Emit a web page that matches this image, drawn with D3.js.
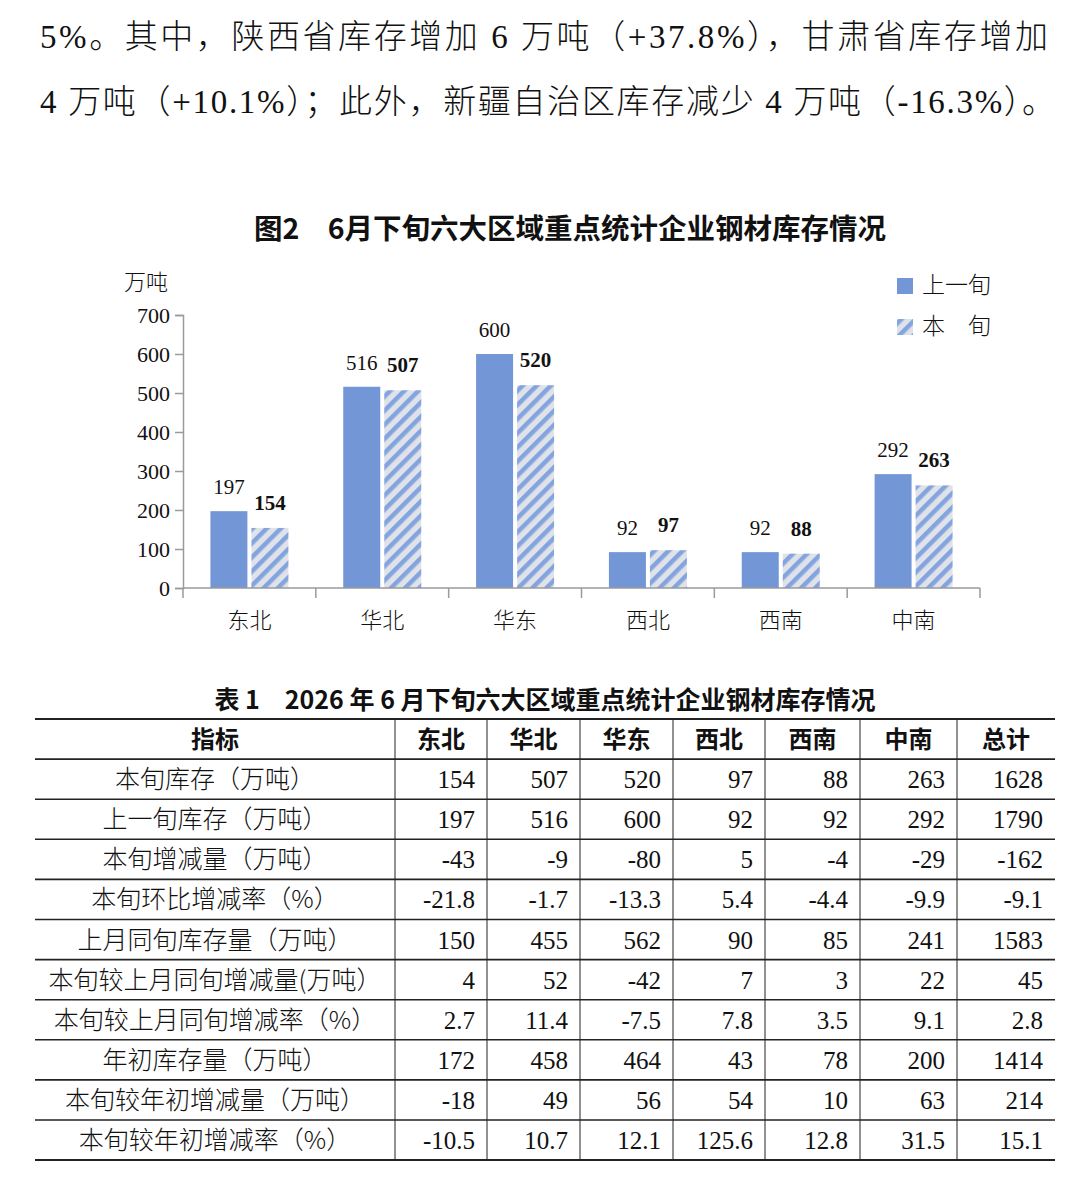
<!DOCTYPE html>
<html>
<head>
<meta charset="utf-8">
<script src="https://cdn.jsdelivr.net/npm/d3@7"></script>
<style>
  body { margin: 0; background: #fff; }
  svg text { font-family: "Liberation Serif", "Noto Sans CJK SC", serif; fill: #111; }
</style>
</head>
<body>
<div id="graphic"></div>
<script>
// chart data
let regions = ['东北', '华北', '华东', '西北', '西南', '中南'];
let prevVals = [197, 516, 600, 92, 92, 292];   // 上一旬
let currVals = [154, 507, 520, 97, 88, 263];   // 本旬
let yTicks = [0, 100, 200, 300, 400, 500, 600, 700];
let seriesNames = ['上一旬', '本　旬'];

// table data
let tableHeader = ['指标', '东北', '华北', '华东', '西北', '西南', '中南', '总计'];
let rowLabels = ['本旬库存（万吨）', '上一旬库存（万吨）', '本旬增减量（万吨）', '本旬环比增减率（%）',
  '上月同旬库存量（万吨）', '本旬较上月同旬增减量(万吨）', '本旬较上月同旬增减率（%）',
  '年初库存量（万吨）', '本旬较年初增减量（万吨）', '本旬较年初增减率（%）'];
let rowCurr = ['154', '507', '520', '97', '88', '263', '1628'];
let rowPrev = ['197', '516', '600', '92', '92', '292', '1790'];
let rowDiff = ['-43', '-9', '-80', '5', '-4', '-29', '-162'];
let rowRate = ['-21.8', '-1.7', '-13.3', '5.4', '-4.4', '-9.9', '-9.1'];
let rowLastMonth = ['150', '455', '562', '90', '85', '241', '1583'];
let rowMonthDiff = ['4', '52', '-42', '7', '3', '22', '45'];
let rowMonthRate = ['2.7', '11.4', '-7.5', '7.8', '3.5', '9.1', '2.8'];
let rowYearStart = ['172', '458', '464', '43', '78', '200', '1414'];
let rowYearDiff = ['-18', '49', '56', '54', '10', '63', '214'];
let rowYearRate = ['-10.5', '10.7', '12.1', '125.6', '12.8', '31.5', '15.1'];
let tableRows = [rowCurr, rowPrev, rowDiff, rowRate, rowLastMonth, rowMonthDiff,
  rowMonthRate, rowYearStart, rowYearDiff, rowYearRate];

let paraLines = ['5%。其中，陕西省库存增加 6 万吨（+37.8%），甘肃省库存增加',
  '4 万吨（+10.1%）；此外，新疆自治区库存减少 4 万吨（-16.3%）。'];

let W = 1080, H = 1197;
let svg = d3.select('#graphic').append('svg')
  .attr('width', W).attr('height', H);

let defs = svg.append('defs');
let pat = defs.append('pattern')
  .attr('id', 'hatch')
  .attr('patternUnits', 'userSpaceOnUse')
  .attr('width', 10).attr('height', 10)
  .attr('patternTransform', 'rotate(45)');
pat.append('rect').attr('width', 10).attr('height', 10).attr('fill', '#dfe2e8');
pat.append('rect').attr('width', 4.5).attr('height', 10).attr('fill', '#84a4df');

// paragraph text above the chart
svg.selectAll('.para')
  .data(paraLines)
  .enter().append('text')
  .attr('class', 'para')
  .attr('x', 40)
  .attr('y', (d, i) => 48 + i * 65)
  .attr('textLength', (d, i) => i == 0 ? 1008 : 1015)
  .attr('lengthAdjust', 'spacing')
  .style('font-size', '33px')
  .style('font-weight', '300')
  .text(d => d);

// chart title
svg.append('text')
  .attr('x', 570).attr('y', 239)
  .attr('text-anchor', 'middle')
  .style('font-family', '"Noto Sans CJK SC", sans-serif')
  .style('font-weight', 'bold')
  .style('font-size', '28.5px')
  .text('图2　6月下旬六大区域重点统计企业钢材库存情况');

// scales
let x = d3.scaleBand()
  .domain(regions)
  .range([183, 980])
  .padding(0);

let y = d3.scaleLinear()
  .domain([0, 700])
  .range([588, 315]);

let barW = 37;

// y axis
let yAxis = svg.append('g')
  .attr('transform', 'translate(183,0)')
  .call(d3.axisLeft(y).tickValues(yTicks).tickSize(8).tickPadding(5));
yAxis.selectAll('line, path').attr('stroke', '#9a9a9a').attr('stroke-width', 1.5);
yAxis.selectAll('text')
  .style('font-size', '22px')
  .style('font-family', '"Liberation Serif", serif')
  .attr('fill', '#222');

svg.append('text')
  .attr('x', 146).attr('y', 290)
  .attr('text-anchor', 'middle')
  .style('font-size', '22px')
  .style('font-family', '"Noto Sans CJK SC", sans-serif')
  .style('font-weight', '300')
  .text('万吨');

// bars: previous period
svg.selectAll('.barPrev')
  .data(prevVals)
  .enter().append('rect')
  .attr('class', 'barPrev')
  .attr('x', (d, i) => x(regions[i]) + x.bandwidth() / 2 - barW - 2)
  .attr('y', d => y(d))
  .attr('width', barW)
  .attr('height', d => y(0) - y(d))
  .attr('fill', '#7397d6');

// bars: current period
svg.selectAll('.barCurr')
  .data(currVals)
  .enter().append('rect')
  .attr('class', 'barCurr')
  .attr('x', (d, i) => x(regions[i]) + x.bandwidth() / 2 + 2)
  .attr('y', d => y(d))
  .attr('width', barW)
  .attr('height', d => y(0) - y(d))
  .attr('fill', 'url(#hatch)');

// value labels
svg.selectAll('.lblPrev')
  .data(prevVals)
  .enter().append('text')
  .attr('x', (d, i) => x(regions[i]) + x.bandwidth() / 2 - barW / 2 - 2)
  .attr('y', d => y(d) - 17)
  .attr('text-anchor', 'middle')
  .style('font-size', '21px')
  .attr('fill', '#222')
  .text(d => d);

svg.selectAll('.lblCurr')
  .data(currVals)
  .enter().append('text')
  .attr('x', (d, i) => x(regions[i]) + x.bandwidth() / 2 + barW / 2 + 2)
  .attr('y', d => y(d) - 18)
  .attr('text-anchor', 'middle')
  .style('font-size', '21px')
  .style('font-weight', 'bold')
  .attr('fill', '#222')
  .text(d => d);

// x axis with ticks at category boundaries
let xAxis = svg.append('g')
  .attr('transform', 'translate(0,588)');
xAxis.append('line')
  .attr('x1', 183).attr('x2', 980)
  .attr('stroke', '#9a9a9a').attr('stroke-width', 1.5);
xAxis.selectAll('.xtick')
  .data(regions.concat(['end']))
  .enter().append('line')
  .attr('x1', (d, i) => i < regions.length ? x(d) : x.range()[1])
  .attr('x2', (d, i) => i < regions.length ? x(d) : x.range()[1])
  .attr('y1', 0).attr('y2', 10)
  .attr('stroke', '#9a9a9a').attr('stroke-width', 1.5);
xAxis.selectAll('.xlabel')
  .data(regions)
  .enter().append('text')
  .attr('x', d => x(d) + x.bandwidth() / 2)
  .attr('y', 40)
  .attr('text-anchor', 'middle')
  .style('font-size', '22px')
  .style('font-family', '"Noto Sans CJK SC", sans-serif')
  .style('font-weight', '300')
  .attr('fill', '#333')
  .text(d => d);

// legend
let legend = svg.append('g').attr('transform', 'translate(897,278)');
legend.selectAll('rect')
  .data(seriesNames)
  .enter().append('rect')
  .attr('x', 0).attr('y', (d, i) => i * 41)
  .attr('width', 16).attr('height', 16)
  .attr('fill', (d, i) => i == 0 ? '#7397d6' : 'url(#hatch)');
legend.selectAll('text')
  .data(seriesNames)
  .enter().append('text')
  .attr('x', 25).attr('y', (d, i) => i * 41 + 15)
  .style('font-size', '23px')
  .style('font-family', '"Noto Sans CJK SC", sans-serif')
  .style('font-weight', '300')
  .attr('fill', '#333')
  .text(d => d);

// ---------- table ----------
svg.append('text')
  .attr('x', 545).attr('y', 709)
  .attr('text-anchor', 'middle')
  .style('font-family', '"Noto Sans CJK SC", sans-serif')
  .style('font-weight', 'bold')
  .style('font-size', '25px')
  .text('表 1　2026 年 6 月下旬六大区域重点统计企业钢材库存情况');

let colEdges = [35, 395, 487, 580, 673, 765, 860, 957, 1055];
let tTop = 719, rowH = 40.1;
let nRows = tableRows.length + 1;

let tbl = svg.append('g');

// horizontal rules
tbl.selectAll('.hline')
  .data(d3.range(nRows + 1))
  .enter().append('line')
  .attr('x1', colEdges[0]).attr('x2', colEdges[colEdges.length - 1])
  .attr('y1', d => tTop + d * rowH).attr('y2', d => tTop + d * rowH)
  .attr('stroke', '#222')
  .attr('stroke-width', d => (d == 0 || d == nRows) ? 2 : 1.6);

// vertical rules (inner only)
tbl.selectAll('.vline')
  .data(colEdges.slice(1, -1))
  .enter().append('line')
  .attr('x1', d => d).attr('x2', d => d)
  .attr('y1', tTop).attr('y2', tTop + nRows * rowH)
  .attr('stroke', '#222').attr('stroke-width', 1);

// header
tbl.selectAll('.hdr')
  .data(tableHeader)
  .enter().append('text')
  .attr('x', (d, i) => (colEdges[i] + colEdges[i + 1]) / 2)
  .attr('y', tTop + 29)
  .attr('text-anchor', 'middle')
  .style('font-family', '"Noto Sans CJK SC", sans-serif')
  .style('font-weight', 'bold')
  .style('font-size', '24px')
  .text(d => d);

// row labels
tbl.selectAll('.rlab')
  .data(rowLabels)
  .enter().append('text')
  .attr('x', (colEdges[0] + colEdges[1]) / 2)
  .attr('y', (d, i) => tTop + (i + 1) * rowH + 29)
  .attr('text-anchor', 'middle')
  .style('font-family', '"Noto Sans CJK SC", sans-serif')
  .style('font-weight', '300')
  .style('font-size', '25px')
  .text(d => d);

// cell values
tableRows.forEach(function(row, r) {
  tbl.selectAll('.cell' + r)
    .data(row)
    .enter().append('text')
    .attr('x', (d, i) => colEdges[i + 2] - 12)
    .attr('y', tTop + (r + 1) * rowH + 29)
    .attr('text-anchor', 'end')
    .style('font-size', '25px')
    .text(d => d);
});
</script>
</body>
</html>
